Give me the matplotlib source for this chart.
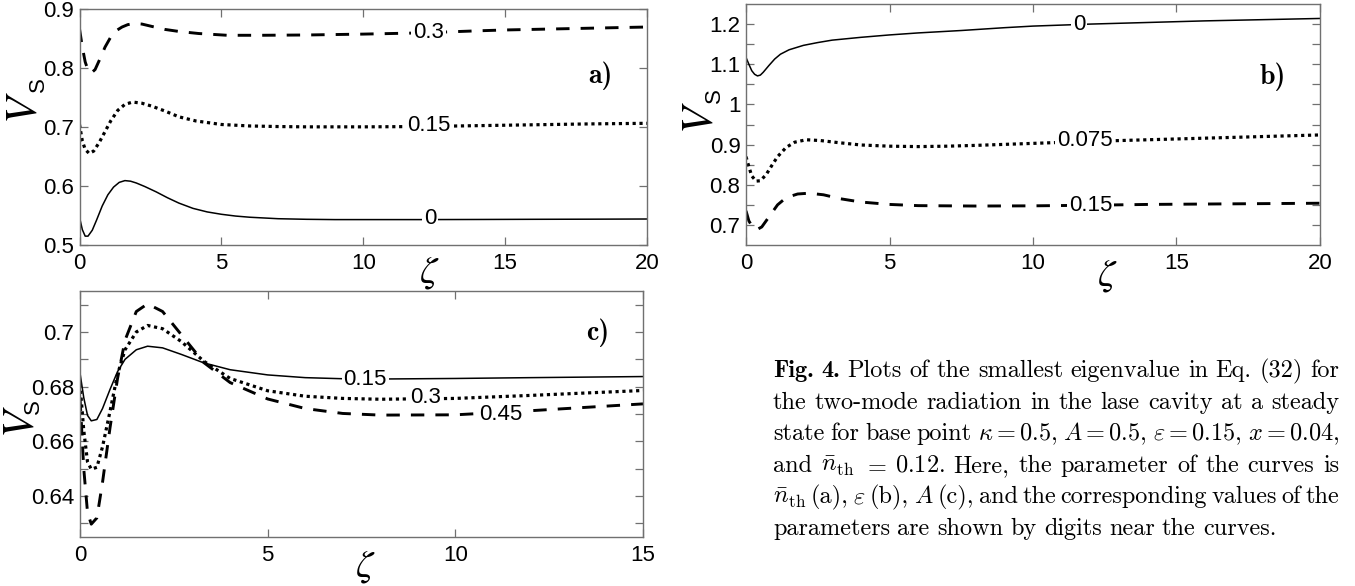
import numpy as np
import matplotlib
matplotlib.use("Agg")
import matplotlib.pyplot as plt
from matplotlib.ticker import FixedLocator

# ---- data ----
# panel a) parameter n_th
za_0 = [0, 0.1, 0.2, 0.3, 0.45, 0.6, 0.8, 1.0, 1.2, 1.4, 1.6, 1.8, 2.0, 2.3, 2.7, 3.1, 3.5, 4.0, 4.5,
        5.0, 5.5, 6.0, 7.0, 8.0, 9.0, 10, 12, 14, 16, 18, 20]
va_0 = [0.547, 0.526, 0.515, 0.515, 0.525, 0.542, 0.566, 0.585, 0.598, 0.606, 0.609, 0.608, 0.605,
        0.599, 0.590, 0.580, 0.571, 0.562, 0.556, 0.552, 0.549, 0.547, 0.5445, 0.5435, 0.543, 0.543,
        0.543, 0.5432, 0.5435, 0.5437, 0.544]
za_015 = [0, 0.1, 0.2, 0.34, 0.5, 0.7, 0.9, 1.1, 1.35, 1.6, 1.87, 2.2, 2.55, 3.0, 3.5, 4.1, 5.0, 6.0,
          7.0, 8.0, 10, 12, 14, 16, 18, 20]
va_015 = [0.704, 0.676, 0.662, 0.655, 0.659, 0.674, 0.692, 0.710, 0.728, 0.738, 0.742, 0.740, 0.735,
          0.727, 0.717, 0.710, 0.704, 0.7015, 0.7005, 0.700, 0.700, 0.7005, 0.702, 0.7035, 0.705, 0.706]
za_03 = [0, 0.1, 0.2, 0.3, 0.41, 0.55, 0.72, 0.9, 1.1, 1.3, 1.5, 1.7, 1.94, 2.2, 2.55, 3.0, 3.5, 4.2,
         5.2, 6.4, 8.0, 10, 12, 14, 15, 17, 18.5, 20]
va_03 = [0.866, 0.835, 0.810, 0.796, 0.791, 0.797, 0.815, 0.835, 0.852, 0.863, 0.869, 0.873, 0.875,
         0.874, 0.870, 0.865, 0.8615, 0.858, 0.855, 0.855, 0.8555, 0.857, 0.859, 0.8625, 0.864, 0.866,
         0.8675, 0.869]

# panel b) parameter epsilon
zb_0 = [0, 0.1, 0.2, 0.3, 0.4, 0.5, 0.6, 0.8, 1.0, 1.2, 1.5, 2.0, 2.5, 3.0, 4.0, 5.0, 6.0, 7.5, 9.0,
        10, 12, 14, 16, 18, 20]
vb_0 = [1.117, 1.100, 1.084, 1.075, 1.071, 1.073, 1.080, 1.097, 1.113, 1.125, 1.136, 1.147, 1.154,
        1.160, 1.167, 1.173, 1.178, 1.184, 1.191, 1.195, 1.200, 1.204, 1.208, 1.211, 1.214]
zb_0075 = [0, 0.1, 0.2, 0.35, 0.5, 0.7, 0.9, 1.1, 1.4, 1.7, 2.1, 2.6, 3.2, 4.0, 5.0, 6.0, 7.0, 8.0,
           10, 12, 14, 16, 18, 20]
vb_0075 = [0.870, 0.845, 0.822, 0.809, 0.810, 0.825, 0.848, 0.870, 0.893, 0.906, 0.912, 0.910, 0.905,
           0.899, 0.896, 0.895, 0.896, 0.898, 0.903, 0.908, 0.912, 0.916, 0.920, 0.924]
zb_015 = [0, 0.1, 0.25, 0.4, 0.55, 0.8, 1.1, 1.4, 1.8, 2.2, 2.7, 3.3, 4.0, 5.0, 6.0, 8.0, 10, 12, 14,
          16, 18, 20]
vb_015 = [0.735, 0.710, 0.692, 0.689, 0.695, 0.720, 0.750, 0.768, 0.777, 0.779, 0.775, 0.765, 0.757,
          0.751, 0.748, 0.747, 0.7475, 0.749, 0.751, 0.752, 0.753, 0.754]

# panel c) parameter A
zc = [0, 0.1, 0.2, 0.3, 0.45, 0.6, 0.8, 1.0, 1.2, 1.5, 1.8, 2.2, 2.7, 3.3, 4.0, 5.0, 6.0, 7.0, 8.0,
      10, 12, 15]
vc_015 = [0.685, 0.676, 0.6695, 0.6675, 0.668, 0.672, 0.679, 0.6855, 0.690, 0.6935, 0.6948, 0.6942,
          0.6918, 0.6887, 0.6862, 0.6843, 0.6833, 0.6829, 0.6828, 0.683, 0.6833, 0.6837]
vc_03 = [0.681, 0.664, 0.6525, 0.6498, 0.6505, 0.658, 0.671, 0.6845, 0.6935, 0.700, 0.7024, 0.7012,
         0.6965, 0.6893, 0.683, 0.6785, 0.6765, 0.6757, 0.6754, 0.6757, 0.6768, 0.6786]
vc_045 = [0.676, 0.650, 0.634, 0.6297, 0.632, 0.645, 0.665, 0.683, 0.697, 0.7075, 0.7103, 0.7075,
          0.699, 0.6888, 0.6815, 0.6755, 0.672, 0.6702, 0.6696, 0.6697, 0.6712, 0.6737]

# ticks
a_yticks = [0.5, 0.6, 0.7, 0.8, 0.9]
a_ylabels = ["0.5", "0.6", "0.7", "0.8", "0.9"]
b_yticks = [0.7, 0.8, 0.9, 1.0, 1.1, 1.2]
b_ylabels = ["0.7", "0.8", "0.9", "1", "1.1", "1.2"]
b_yminor = [0.75, 0.85, 0.95, 1.05, 1.15]
c_yticks = [0.64, 0.66, 0.68, 0.70]
c_ylabels = ["0.64", "0.66", "0.68", "0.7"]
c_yminor = [0.63, 0.65, 0.67, 0.69, 0.71]
ab_xticks = [0, 5, 10, 15, 20]
c_xticks = [0, 5, 10, 15]

# caption
cap_lines = [
    [("Fig.", True), ("4.", True), "Plots", "of", "the", "smallest", "eigenvalue", "in", "Eq.", "(32)", "for"],
    "the two-mode radiation in the lase cavity at a steady".split(),
    ["state", "for", "base", "point", r"$\kappa=0.5$,", r"$A=0.5$,", r"$\varepsilon=0.15$,", r"$x=0.04$,"],
    ["and", r"$\bar{n}_{\rm th}$", r"$=$", r"$0.12$.", "Here,", "the", "parameter", "of", "the", "curves", "is"],
    [r"$\bar{n}_{\rm th}$", "(a),", r"$\varepsilon$", "(b),", r"$A$", "(c),", "and", "the", "corresponding",
     "values", "of", "the"],
    "parameters are shown by digits near the curves.".split(),
]

W, H = 1355, 586
fig = plt.figure(figsize=(W / 100, H / 100), dpi=100)
fig.patch.set_facecolor("white")

TICKFONT = dict(family="Liberation Sans", size=16)
GREY = "#707070"

solid = dict(color="black", lw=1.1, ls="-")
dotted = dict(color="black", lw=2.3, ls=(0, (1, 1.15)))
dashed = dict(color="black", lw=2.1, ls=(0, (4.6, 3.8)))


def px_axes(l, t, r, b):
    return fig.add_axes([l / W, 1 - b / H, (r - l) / W, (b - t) / H])


def style(ax, xt, yt, ylab, yminor=None):
    ax.set_xticks(xt)
    ax.set_xticklabels([str(v) for v in xt], fontdict=TICKFONT)
    ax.set_yticks(yt)
    ax.set_yticklabels(ylab, fontdict=TICKFONT)
    if yminor is not None:
        ax.yaxis.set_minor_locator(FixedLocator(yminor))
    ax.tick_params(which="both", direction="in", top=True, right=True, length=5.5, width=0.9,
                   color=GREY, labelcolor="black")
    ax.tick_params(axis="x", pad=6)
    ax.tick_params(axis="y", pad=4)
    for s in ax.spines.values():
        s.set_color(GREY)
        s.set_linewidth(1.0)


def curve_label(ax, x, y, s):
    ax.text(x, y, s, ha="center", va="center", fontfamily="Liberation Sans", fontsize=16,
            bbox=dict(facecolor="white", edgecolor="none", pad=1.5), zorder=5)


def vs_label(ax, xv, yv, xs, ys):
    ax.text(xv, yv, r"$V$", transform=ax.transAxes, rotation=90, ha="center", va="center",
            fontsize=32, math_fontfamily="stix")
    ax.text(xs, ys, "S", transform=ax.transAxes, rotation=90, ha="center", va="center",
            fontfamily="Liberation Sans", fontsize=16)


def zeta_label(ax, xf, yf):
    ax.text(xf, yf, r"$\zeta$", transform=ax.transAxes, ha="center", va="center",
            fontsize=28, math_fontfamily="stix")


# ---- panel a ----
axa = px_axes(79.5, 8.7, 647, 245)
axa.plot(za_0, va_0, **solid)
axa.plot(za_015, va_015, **dotted)
axa.plot(za_03, va_03, **dashed)
axa.set_xlim(0, 20)
axa.set_ylim(0.5, 0.9)
style(axa, ab_xticks, a_yticks, a_ylabels)
curve_label(axa, 12.3, 0.859, "0.3")
curve_label(axa, 12.3, 0.7015, "0.15")
curve_label(axa, 12.35, 0.5445, "0")
axa.text(0.917, 0.715, "a)", transform=axa.transAxes, ha="center", va="center",
         fontfamily="cmb10", fontsize=20)
vs_label(axa, -0.097, 0.58, -0.072, 0.68)
zeta_label(axa, 0.616, -0.115)

# ---- panel b ----
axb = px_axes(746, 4, 1320, 245)
axb.plot(zb_0, vb_0, **solid)
axb.plot(zb_0075, vb_0075, **dotted)
axb.plot(zb_015, vb_015, **dashed)
axb.set_xlim(0, 20)
axb.set_ylim(0.65, 1.25)
style(axb, ab_xticks, b_yticks, b_ylabels, b_yminor)
curve_label(axb, 11.6, 1.2, "0")
curve_label(axb, 11.8, 0.911, "0.075")
curve_label(axb, 12.0, 0.7495, "0.15")
axb.text(0.918, 0.70, "b)", transform=axb.transAxes, ha="center", va="center",
         fontfamily="cmb10", fontsize=20)
vs_label(axb, -0.080, 0.53, -0.055, 0.62)
zeta_label(axb, 0.629, -0.124)

# ---- panel c ----
axc = px_axes(80, 291, 643, 537)
axc.plot(zc, vc_015, **solid)
axc.plot(zc, vc_03, **dotted)
axc.plot(zc, vc_045, **dashed)
axc.set_xlim(0, 15)
axc.set_ylim(0.625, 0.715)
style(axc, c_xticks, c_yticks, c_ylabels, c_yminor)
curve_label(axc, 7.6, 0.6826, "0.15")
curve_label(axc, 9.2, 0.6759, "0.3")
curve_label(axc, 11.2, 0.6698, "0.45")
axc.text(0.92, 0.83, "c)", transform=axc.transAxes, ha="center", va="center",
         fontfamily="cmb10", fontsize=20)
vs_label(axc, -0.104, 0.47, -0.082, 0.53)
zeta_label(axc, 0.506, -0.118)

# ---- caption, justified line by line ----
renderer = fig.canvas.get_renderer()
CAP = 17.5
x0, x1 = 773, 1339
base0, step = 377, 31.6
for i, line in enumerate(cap_lines):
    y = 1 - (base0 + i * step) / H
    items = []
    for tok in line:
        s, bold = tok if isinstance(tok, tuple) else (tok, False)
        t = fig.text(0, y, s, fontfamily="cmb10" if bold else "cmr10", fontsize=CAP,
                     va="baseline", ha="left", math_fontfamily="cm")
        items.append(t)
    widths = [t.get_window_extent(renderer).width for t in items]
    if i < len(cap_lines) - 1:
        gap = (x1 - x0 - sum(widths)) / (len(items) - 1)
    else:
        gap = 0.3 * CAP * 100 / 72
    x = x0
    for t, w in zip(items, widths):
        t.set_x(x / W)
        x += w + gap

fig.savefig("out.png", dpi=100, facecolor="white")
